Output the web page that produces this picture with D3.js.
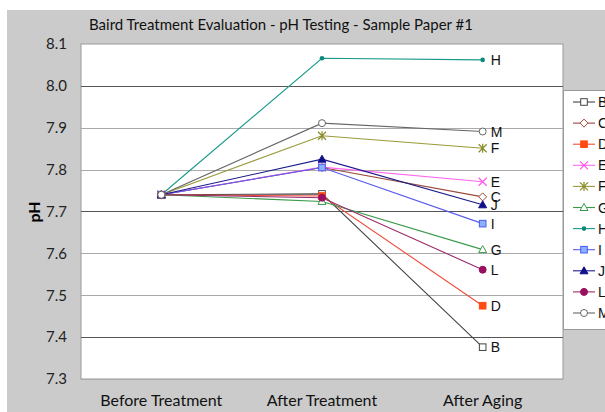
<!DOCTYPE html>
<html>
<head>
<meta charset="utf-8">
<script src="https://cdn.jsdelivr.net/npm/d3@7"></script>
<style>
  body { margin: 0; background: #fff; }
  svg { display: block; }
</style>
</head>
<body>
<svg id="chart" width="605" height="412"></svg>
<script>
// stages on the x axis
var stages = ["Before Treatment", "After Treatment", "After Aging"];
// one array of pH values per sample, in stage order
var phB = [7.74, 7.742, 7.376];
var phC = [7.74, 7.805, 7.735];
var phD = [7.74, 7.737, 7.475];
var phE = [7.74, 7.806, 7.771];
var phF = [7.74, 7.881, 7.851];
var phG = [7.74, 7.724, 7.609];
var phH = [7.74, 8.066, 8.062];
var phI = [7.74, 7.805, 7.671];
var phJ = [7.74, 7.825, 7.716];
var phL = [7.74, 7.733, 7.561];
var phM = [7.74, 7.911, 7.891];
var sampleNames = ["B", "C", "D", "E", "F", "G", "H", "I", "J", "L", "M"];
var yTicks = [7.3, 7.4, 7.5, 7.6, 7.7, 7.8, 7.9, 8.0, 8.1];

var samples = [
  {name: "B", values: phB, line: "#444", fill: "#fff", stroke: "#444", shape: "square"},
  {name: "C", values: phC, line: "#9a4a3a", fill: "#fff", stroke: "#9a4a3a", shape: "diamond"},
  {name: "D", values: phD, line: "#f04a3a", fill: "#ff4a10", stroke: "#ff4a10", shape: "square"},
  {name: "E", values: phE, line: "#ff66ee", fill: "none", stroke: "#ff55ee", shape: "x"},
  {name: "F", values: phF, line: "#9a9a3a", fill: "none", stroke: "#8a8a2a", shape: "star"},
  {name: "G", values: phG, line: "#3a9a4a", fill: "#fff", stroke: "#3a9a4a", shape: "triangle"},
  {name: "H", values: phH, line: "#1a9a8a", fill: "#0a8a7a", stroke: "#0a8a7a", shape: "dot"},
  {name: "I", values: phI, line: "#5a5aee", fill: "#8ab0ff", stroke: "#4a5aee", shape: "square"},
  {name: "J", values: phJ, line: "#1a1a8a", fill: "#10108a", stroke: "#10108a", shape: "triangle"},
  {name: "L", values: phL, line: "#9a2a6a", fill: "#9a1060", stroke: "#9a1060", shape: "circle"},
  {name: "M", values: phM, line: "#666", fill: "#fff", stroke: "#666", shape: "circle"}
];

var svg = d3.select("#chart");
var plotL = 81, plotR = 563, plotT = 44, plotB = 379;

// gray chart background
svg.append("rect").attr("x", 7).attr("y", 10).attr("width", 620).attr("height", 420)
  .attr("fill", "#cbcbcb");
svg.append("rect").attr("x", plotL).attr("y", plotT).attr("width", plotR - plotL).attr("height", plotB - plotT)
  .attr("fill", "#fff").attr("stroke", "#999").attr("stroke-width", 1);

var x = d3.scaleBand().domain(stages).range([plotL, plotR]);
var y = d3.scaleLinear().domain([7.3, 8.1]).range([plotB, plotT]);
var cx = function(s){ return x(s) + x.bandwidth() / 2; };

// gridlines
svg.append("g").selectAll("line").data(yTicks.filter(function(t){ return t > 7.3 && t < 8.1; }))
  .enter().append("line")
  .attr("x1", plotL).attr("x2", plotR)
  .attr("y1", function(d){ return Math.round(y(d)) + 0.5; })
  .attr("y2", function(d){ return Math.round(y(d)) + 0.5; })
  .attr("stroke", function(d, i){ return (i % 3 == 0) ? "#555" : "#aaa"; })
  .attr("stroke-width", 1);
svg.append("line").attr("x1", plotL).attr("x2", plotR).attr("y1", plotB + 0.5).attr("y2", plotB + 0.5)
  .attr("stroke", "#aaa");

// y axis
var yAxis = svg.append("g").attr("transform", "translate(" + plotL + ",0)")
  .call(d3.axisLeft(y).tickValues(yTicks).tickFormat(d3.format(".1f")).tickSize(0).tickPadding(14));
yAxis.select(".domain").remove();
yAxis.selectAll("text").attr("font-family", "Lato, sans-serif").attr("font-size", 15).attr("fill", "#222");

// x axis
var xAxis = svg.append("g").attr("transform", "translate(0," + plotB + ")")
  .call(d3.axisBottom(x).tickSize(0).tickPadding(16));
xAxis.select(".domain").remove();
xAxis.selectAll("text").attr("font-family", "Lato, sans-serif").attr("font-size", 16).attr("fill", "#111");

svg.append("text").attr("transform", "translate(40,212) rotate(-90)")
  .attr("text-anchor", "middle").attr("font-family", "Lato, sans-serif").attr("font-weight", "bold")
  .attr("font-size", 16).text("pH");

svg.append("text").attr("x", 281).attr("y", 30).attr("text-anchor", "middle")
  .attr("font-family", "Lato, sans-serif").attr("font-size", 15).attr("fill", "#111")
  .text("Baird Treatment Evaluation - pH Testing - Sample Paper #1");

function drawMarker(g, s, px, py){
  var r = 3.3;
  if(s.shape == "square"){
    g.append("rect").attr("x", px - r).attr("y", py - r).attr("width", 2*r).attr("height", 2*r)
      .attr("fill", s.fill).attr("stroke", s.stroke).attr("stroke-width", 1);
  } else if(s.shape == "diamond"){
    g.append("path").attr("d", "M" + px + "," + (py - 4) + "L" + (px + 4) + "," + py + "L" + px + "," + (py + 4) + "L" + (px - 4) + "," + py + "Z")
      .attr("fill", s.fill).attr("stroke", s.stroke);
  } else if(s.shape == "triangle"){
    g.append("path").attr("d", "M" + px + "," + (py - 4) + "L" + (px + 4) + "," + (py + 3) + "L" + (px - 4) + "," + (py + 3) + "Z")
      .attr("fill", s.fill).attr("stroke", s.stroke);
  } else if(s.shape == "circle"){
    g.append("circle").attr("cx", px).attr("cy", py).attr("r", 3.5).attr("fill", s.fill).attr("stroke", s.stroke);
  } else if(s.shape == "dot"){
    g.append("circle").attr("cx", px).attr("cy", py).attr("r", 2.3).attr("fill", s.fill);
  } else if(s.shape == "x"){
    g.append("path").attr("d", "M" + (px - 4) + "," + (py - 4) + "L" + (px + 4) + "," + (py + 4) + "M" + (px + 4) + "," + (py - 4) + "L" + (px - 4) + "," + (py + 4))
      .attr("stroke", s.stroke).attr("stroke-width", 1.2);
  } else if(s.shape == "star"){
    g.append("path").attr("d", "M" + (px - 4) + "," + (py - 4) + "L" + (px + 4) + "," + (py + 4) + "M" + (px + 4) + "," + (py - 4) + "L" + (px - 4) + "," + (py + 4) + "M" + px + "," + (py - 4.5) + "L" + px + "," + (py + 4.5))
      .attr("stroke", s.stroke).attr("stroke-width", 1.2);
  }
}

var line = d3.line()
  .x(function(d, i){ return cx(stages[i]); })
  .y(function(d){ return y(d); });

var series = svg.append("g");
samples.forEach(function(s){
  series.append("path").attr("d", line(s.values)).attr("fill", "none")
    .attr("stroke", s.line).attr("stroke-width", 1.1);
});
samples.forEach(function(s){
  s.values.forEach(function(v, i){ drawMarker(series, s, cx(stages[i]), y(v)); });
  // end label
  series.append("text").attr("x", cx(stages[2]) + 8).attr("y", y(s.values[2]) + 5)
    .attr("font-family", "Liberation Sans, Arial, sans-serif").attr("font-size", 14).attr("fill", "#111")
    .text(s.name);
});

// legend
var leg = svg.append("g");
leg.append("rect").attr("x", 563.5).attr("y", 90.5).attr("width", 60).attr("height", 239)
  .attr("fill", "#fff").attr("stroke", "#999");
samples.forEach(function(s, i){
  var ly = 102 + i * 21.1;
  leg.append("line").attr("x1", 573).attr("x2", 595).attr("y1", ly).attr("y2", ly)
    .attr("stroke", s.line).attr("stroke-width", 1.1);
  drawMarker(leg, s, 584, ly);
  leg.append("text").attr("x", 598).attr("y", ly + 5)
    .attr("font-family", "Liberation Sans, Arial, sans-serif").attr("font-size", 14).attr("fill", "#111")
    .text(sampleNames[i]);
});
</script>
</body>
</html>
